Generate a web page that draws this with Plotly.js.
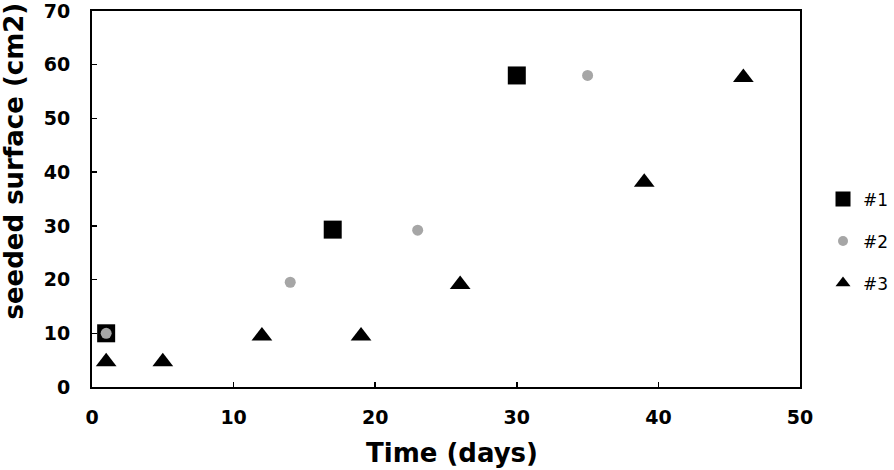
<!DOCTYPE html>
<html>
<head>
<meta charset="utf-8">
<script src="https://cdn.plot.ly/plotly-3.0.1.min.js"></script>
<style>html,body{margin:0;padding:0;background:#fff}#chart{width:894px;height:470px}</style>
</head>
<body>
<div id="chart"></div>
<script>
// Data
const s1Days = [1, 17, 30];
const s1Surface = [10, 29.3, 58];
const s2Days = [1, 14, 23, 35];
const s2Surface = [10, 19.5, 29.2, 58];
const s3Days = [1, 5, 12, 19, 26, 39, 46];
const s3Surface = [4.7, 4.7, 9.5, 9.5, 19.1, 38.1, 57.6];
const seriesNames = ['#1', '#2', '#3'];
const xTicks = [0, 10, 20, 30, 40, 50];
const yTicks = [0, 10, 20, 30, 40, 50, 60, 70];

const FONT = 'DejaVu Sans, Arial, sans-serif';
const GRAY = '#a6a6a6';

const traces = [
  {x: s1Days, y: s1Surface, mode: 'markers', type: 'scatter', showlegend: false,
   marker: {symbol: 'square', size: 18, color: '#000'}},
  {x: s2Days, y: s2Surface, mode: 'markers', type: 'scatter', showlegend: false,
   marker: {symbol: 'circle', size: 11, color: GRAY}},
  {x: s3Days, y: s3Surface, mode: 'markers', type: 'scatter', showlegend: false,
   marker: {symbol: 'triangle-up', size: 18, color: '#000'}},
  // legend entries
  {x: [null], y: [null], mode: 'markers', type: 'scatter', name: seriesNames[0], legendgroup: 'a',
   marker: {symbol: 'square', size: 15, color: '#000'}},
  {x: [null], y: [null], mode: 'markers', type: 'scatter', name: seriesNames[1], legendgroup: 'b',
   marker: {symbol: 'circle', size: 10, color: GRAY}},
  {x: [null], y: [null], mode: 'markers', type: 'scatter', name: seriesNames[2], legendgroup: 'c',
   marker: {symbol: 'triangle-up', size: 13, color: '#000'}}
];

const layout = {
  width: 894, height: 470,
  margin: {l: 92, r: 94, t: 11, b: 83, autoexpand: false},
  paper_bgcolor: '#fff', plot_bgcolor: '#fff',
  font: {family: FONT, color: '#000'},
  showlegend: true,
  legend: {
    x: 1.0325, xanchor: 'left', y: 0.547, yanchor: 'top',
    font: {family: FONT, size: 17, color: '#000'},
    tracegroupgap: 17, traceorder: 'grouped',
    bgcolor: 'rgba(0,0,0,0)', borderwidth: 0
  },
  xaxis: {
    range: [0, 50], tickvals: xTicks, ticktext: xTicks.map(String),
    showgrid: false, zeroline: false,
    showline: true, linecolor: '#000', linewidth: 2, mirror: true,
    ticks: 'inside', ticklen: 5, tickwidth: 1.5, tickcolor: '#000',
    tickfont: {family: FONT, size: 19, weight: 'bold', color: '#000'},
    ticklabelstandoff: 12, ticklabeloverflow: 'allow',
    fixedrange: true
  },
  yaxis: {
    range: [0, 70], tickvals: yTicks, ticktext: yTicks.map(String),
    showgrid: false, zeroline: false,
    showline: true, linecolor: '#000', linewidth: 2, mirror: true,
    ticks: 'inside', ticklen: 5, tickwidth: 1.5, tickcolor: '#000',
    tickfont: {family: FONT, size: 19, weight: 'bold', color: '#000'},
    ticklabelstandoff: 16, ticklabeloverflow: 'allow',
    fixedrange: true
  },
  annotations: [
    {text: 'Time (days)', xref: 'paper', yref: 'paper', x: 0.508, y: -0.175,
     xanchor: 'center', yanchor: 'middle', showarrow: false,
     font: {family: FONT, size: 26, weight: 'bold', color: '#000'}},
    {text: 'seeded surface (cm2)', xref: 'paper', yref: 'paper', x: -0.110, y: 0.60,
     xanchor: 'center', yanchor: 'middle', showarrow: false, textangle: -90,
     font: {family: FONT, size: 26, weight: 'bold', color: '#000'}}
  ]
};

Plotly.newPlot('chart', traces, layout, {displayModeBar: false, staticPlot: true});
</script>
</body>
</html>
